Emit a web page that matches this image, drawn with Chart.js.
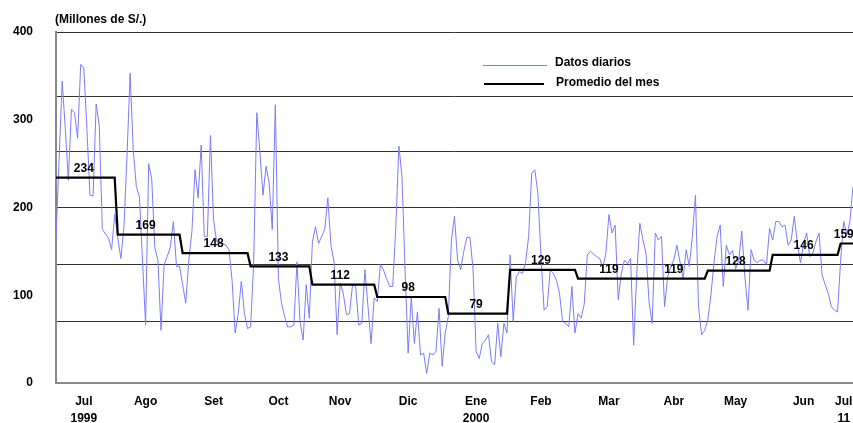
<!DOCTYPE html>
<html>
<head>
<meta charset="utf-8">
<script src="https://cdn.jsdelivr.net/npm/chart.js@4.4.1/dist/chart.umd.min.js"></script>
<style>
  html, body { margin: 0; padding: 0; background: #fff; }
  #wrap { position: relative; width: 853px; height: 423px; overflow: hidden; }
  .leg { position: absolute; font: bold 12px "Liberation Sans", Arial, sans-serif; color: #000; white-space: nowrap; line-height: 14px; }
  .sw { position: absolute; }
</style>
</head>
<body>
<div id="wrap">
  <canvas id="chart"></canvas>
  <div class="sw" style="left:483px;top:65px;width:64px;height:1px;background:#7b7bff"></div>
  <div class="leg" style="left:555px;top:55px">Datos diarios</div>
  <div class="sw" style="left:484px;top:83px;width:60px;height:2px;background:#000"></div>
  <div class="leg" style="left:556px;top:75px">Promedio del mes</div>
</div>
<script>
// datos diarios por mes (millones de S/.)
const jul99 = [165, 255, 344, 290, 231, 312, 308, 279, 363, 359, 290, 214, 213, 318, 294, 175, 170, 165, 152, 192];
const ago99 = [165, 142, 178, 260, 353, 266, 224, 212, 140, 66, 250, 232, 154, 140, 60, 135, 144, 155, 184, 133, 133];
const set99 = [112, 91, 140, 173, 243, 211, 271, 167, 167, 282, 186, 161, 159, 159, 157, 152, 117, 57, 79, 116, 79, 62];
const oct99 = [64, 138, 308, 264, 214, 247, 228, 175, 317, 119, 91, 76, 64, 64, 66, 138, 70, 49, 112, 74];
const nov99 = [161, 178, 159, 167, 175, 211, 157, 138, 55, 114, 102, 78, 79, 112, 110, 66, 68, 129, 87, 45, 97];
const dic99 = [93, 135, 129, 119, 110, 110, 178, 270, 235, 129, 34, 98, 45, 81, 32, 34, 11, 34, 32, 36, 85, 19, 57];
const ene00 = [76, 163, 190, 140, 129, 150, 166, 166, 130, 36, 28, 45, 49, 55, 24, 21, 68, 30, 68, 57];
const feb00 = [146, 70, 121, 127, 125, 137, 167, 239, 243, 216, 144, 83, 87, 129, 125, 117, 102, 70, 68, 64, 110, 57];
const mar00 = [79, 74, 90, 146, 150, 147, 144, 142, 131, 148, 192, 171, 180, 95, 125, 140, 136, 142, 43, 125, 182, 163, 148];
const abr00 = [91, 68, 171, 163, 167, 87, 121, 133, 140, 157, 138, 119, 152, 133, 167, 214, 87, 55, 60];
const may00 = [72, 100, 137, 167, 180, 110, 157, 146, 151, 130, 140, 173, 121, 83, 152, 140, 137, 140, 140, 135, 176];
const jun00 = [163, 184, 184, 178, 180, 157, 163, 190, 159, 137, 159, 171, 144, 148, 161, 171, 123, 112, 102, 87, 83, 81];
const jul00 = [140, 184, 169, 184, 224];

const months = ["Jul", "Ago", "Set", "Oct", "Nov", "Dic", "Ene", "Feb", "Mar", "Abr", "May", "Jun", "Jul"];
const yearTags = ["1999", "", "", "", "", "", "2000", "", "", "", "", "", "11"];
const monthAvg = [234, 169, 148, 133, 112, 98, 79, 129, 119, 119, 128, 146, 159];
const yTicks = [0, 100, 200, 300, 400];
const gridValues = [70, 135, 200, 264, 327, 400];

const daily = [jul99, ago99, set99, oct99, nov99, dic99, ene00, feb00, mar00, abr00, may00, jun00, jul00];

const FONT = '"Liberation Sans", Arial, sans-serif';

// armar etiquetas y series
const labels = [], values = [], avgLine = [], midIdx = [];
daily.forEach((arr, m) => {
  const start = labels.length;
  midIdx.push(start + Math.floor(arr.length / 2) - 1);
  arr.forEach((v, k) => {
    labels.push(months[m] + " " + (k + 1));
    values.push(v);
    avgLine.push(monthAvg[m]);
  });
});

// números del promedio y título del eje
const extras = {
  id: "extras",
  afterDatasetsDraw(chart) {
    const { ctx, scales, chartArea } = chart;
    ctx.save();
    ctx.fillStyle = "#000";
    ctx.font = "bold 12px " + FONT;
    ctx.textAlign = "center";
    ctx.textBaseline = "bottom";
    monthAvg.forEach((v, m) => {
      const x = scales.x.getPixelForValue(midIdx[m]);
      const y = scales.y.getPixelForValue(v) - 3;
      ctx.fillText(String(v), x, y);
    });
    ctx.textAlign = "left";
    ctx.textBaseline = "middle";
    ctx.fillText("(Millones de S/.)", chartArea.left - 1, 20);
    ctx.restore();
  }
};

new Chart(document.getElementById("chart"), {
  type: "line",
  data: {
    labels,
    datasets: [
      { label: "Promedio del mes", data: avgLine, borderColor: "#000", borderWidth: 2.2, pointRadius: 0, tension: 0 },
      { label: "Datos diarios", data: values, borderColor: "#7b7bff", borderWidth: 1, pointRadius: 0, tension: 0 }
    ]
  },
  options: {
    responsive: true,
    maintainAspectRatio: false,
    animation: false,
    layout: { padding: { top: 32, right: 0, left: 0, bottom: 0 } },
    plugins: { legend: { display: false }, tooltip: { enabled: false } },
    scales: {
      x: {
        offset: false,
        afterFit: s => { s.height = 40; s.paddingRight = 0; s.paddingLeft = 0; },
        grid: { display: false, drawTicks: false },
        border: { color: "#888", width: 2 },
        ticks: {
          autoSkip: false, maxRotation: 0, minRotation: 0, padding: 10, color: "#000",
          font: { family: FONT, size: 12, weight: "bold", lineHeight: 1.4 },
          callback: (v, i) => {
            const m = midIdx.indexOf(i);
            if (m < 0) return "";
            return yearTags[m] ? [months[m], yearTags[m]] : months[m];
          }
        }
      },
      y: {
        min: 0, max: 400,
        afterBuildTicks: s => { s.ticks = yTicks.map(v => ({ value: v })); },
        afterFit: s => { s.width = 56; },
        grid: { display: false, drawTicks: false },
        border: { color: "#888", width: 2 },
        ticks: { padding: 23, color: "#000", font: { family: FONT, size: 12, weight: "bold" } }
      },
      g: {
        position: "left",
        min: 0, max: 400,
        afterBuildTicks: s => { s.ticks = gridValues.map(v => ({ value: v })); },
        afterFit: s => { s.width = 0; },
        grid: { color: "#333", lineWidth: 1, drawTicks: false },
        border: { display: false },
        ticks: { display: false }
      }
    }
  },
  plugins: [extras]
});
</script>
</body>
</html>
